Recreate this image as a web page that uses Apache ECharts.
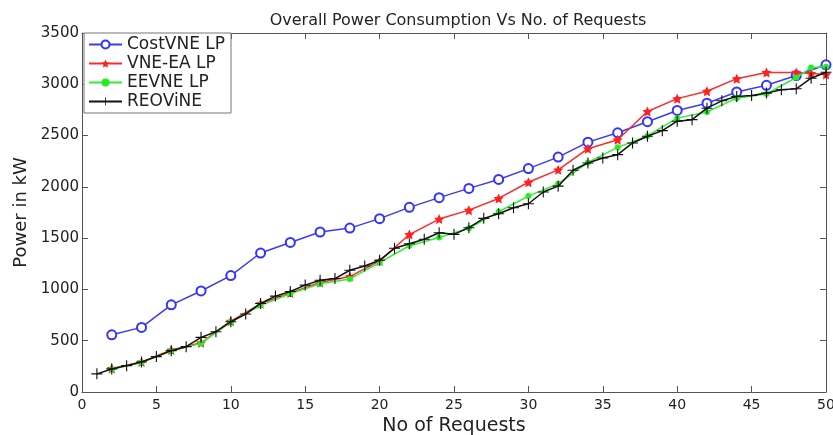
<!DOCTYPE html>
<html><head><meta charset="utf-8">
<script src="https://cdn.jsdelivr.net/npm/echarts@6/dist/echarts.min.js"></script>
<style>html,body{margin:0;padding:0;background:#fff}#c{width:833px;height:435px}</style>
</head><body><div id="c"></div>
<script>
var costX = [2,4,6,8,10,12,14,16,18,20,22,24,26,28,30,32,34,36,38,40,42,44,46,48,50];
var costY = [558,630,850,985,1135,1355,1458,1560,1598,1690,1800,1895,1985,2072,2178,2290,2436,2527,2635,2745,2815,2925,2990,3085,3190];
var eaX = [2,4,6,8,10,12,14,16,18,20,22,24,26,28,30,32,34,36,38,40,42,44,46,48,49,50];
var eaY = [230,292,410,480,690,860,965,1068,1125,1278,1535,1686,1773,1887,2045,2166,2372,2460,2735,2860,2932,3055,3115,3115,3105,3095];
var eeX = [2,4,6,8,10,12,14,16,18,20,22,24,26,28,30,32,34,36,38,40,42,44,46,48,49,50];
var eeY = [222,286,400,474,682,845,958,1055,1102,1262,1426,1507,1596,1757,1910,2030,2238,2385,2497,2670,2730,2865,2905,3066,3163,3170];
var reX = [1,2,3,4,5,6,7,8,9,10,11,12,13,14,15,16,17,18,19,20,21,22,23,24,25,26,27,28,29,30,31,32,33,34,35,36,37,38,39,40,41,42,43,44,45,46,47,48,49,50];
var reY = [177,225,257,293,345,403,442,533,588,685,760,863,935,980,1042,1090,1106,1187,1229,1284,1401,1446,1489,1553,1537,1602,1693,1738,1796,1835,1950,2007,2162,2233,2282,2314,2428,2493,2548,2640,2655,2767,2839,2881,2891,2914,2947,2956,3059,3117];
var xTicks = [0,5,10,15,20,25,30,35,40,45,50];
var yTicks = [0,500,1000,1500,2000,2500,3000,3500];

function pairs(xs, ys){ return xs.map(function(x,i){ return [x, ys[i]]; }); }
var STAR = 'path://M0,-10 L2.9,-4 L9.5,-3.1 L4.7,1.5 L5.9,8.1 L0,5 L-5.9,8.1 L-4.7,1.5 L-9.5,-3.1 L-2.9,-4 Z';
var PLUS = 'path://M-1,-10 H1 V-1 H10 V1 H1 V10 H-1 V1 H-10 V-1 H-1 Z';
var font = 'DejaVu Sans, Arial, sans-serif';
var axisCol = '#555';

var chart = echarts.init(document.getElementById('c'), null, {renderer:'canvas'});
function xAx(pos, show){
  return {type:'value', min:xTicks[0], max:xTicks[xTicks.length-1], interval:xTicks[1]-xTicks[0], position:pos,
    axisLine:{show:true, onZero:false, lineStyle:{color:axisCol, width:1}},
    axisTick:{show:true, inside:true, length:6, lineStyle:{color:axisCol}},
    axisLabel:{show:show, color:'#222', fontSize:14, fontFamily:font, margin:6, formatter:function(v){return String(v);}},
    splitLine:{show:false},
    name: show ? 'No of Requests' : '', nameLocation:'middle', nameGap:25,
    nameTextStyle:{fontSize:19, color:'#222', fontFamily:font}};
}
function yAx(pos, show){
  return {type:'value', min:yTicks[0], max:yTicks[yTicks.length-1], interval:yTicks[1]-yTicks[0], position:pos,
    axisLine:{show:true, onZero:false, lineStyle:{color:axisCol, width:1}},
    axisTick:{show:true, inside:true, length:6, lineStyle:{color:axisCol}},
    axisLabel:{show:show, color:'#222', fontSize:15, fontFamily:font, margin:3, formatter:function(v){return String(v);}},
    splitLine:{show:false},
    name: show ? 'Power in kW' : '', nameLocation:'middle', nameGap:52, nameRotate:90,
    nameTextStyle:{fontSize:18, color:'#222', fontFamily:font}};
}
chart.setOption({
  animation:false,
  title:{text:'Overall Power Consumption Vs No. of Requests', left:453, top:8, textAlign:'center',
    textStyle:{fontSize:16, fontWeight:'normal', color:'#222', fontFamily:font}},
  grid:{left:82, right:7, top:33, bottom:43, containLabel:false, outerBoundsMode:'none'},
  legend:{orient:'vertical', left:84, top:33, itemWidth:33, itemHeight:10, itemGap:2,
    padding:[3,6,3,4], borderColor:'#777', borderWidth:1, backgroundColor:'#fff',
    textStyle:{fontSize:17, color:'#222', fontFamily:font, lineHeight:16.5},
    data:['CostVNE LP','VNE-EA LP','EEVNE LP','REOViNE']},
  xAxis:[xAx('bottom', true), xAx('top', false)],
  yAxis:[yAx('left', true), yAx('right', false)],
  series:[
    {name:'CostVNE LP', type:'line', data:pairs(costX,costY), symbol:'emptyCircle', symbolSize:9,
      itemStyle:{color:'#3333ff', borderWidth:1.3}, lineStyle:{color:'#3a3aff', width:1.5}, z:2},
    {name:'VNE-EA LP', type:'line', data:pairs(eaX,eaY), symbol:STAR, symbolSize:10,
      itemStyle:{color:'#ff2020'}, lineStyle:{color:'#ff2a2a', width:1.5}, z:3},
    {name:'EEVNE LP', type:'line', data:pairs(eeX,eeY), symbol:'circle', symbolSize:6,
      itemStyle:{color:'#22ee22'}, lineStyle:{color:'#33ee33', width:1.5}, z:4},
    {name:'REOViNE', type:'line', data:pairs(reX,reY), symbol:PLUS, symbolSize:11,
      itemStyle:{color:'#111'}, lineStyle:{color:'#111', width:1.5}, z:5}
  ]
});
</script></body></html>
